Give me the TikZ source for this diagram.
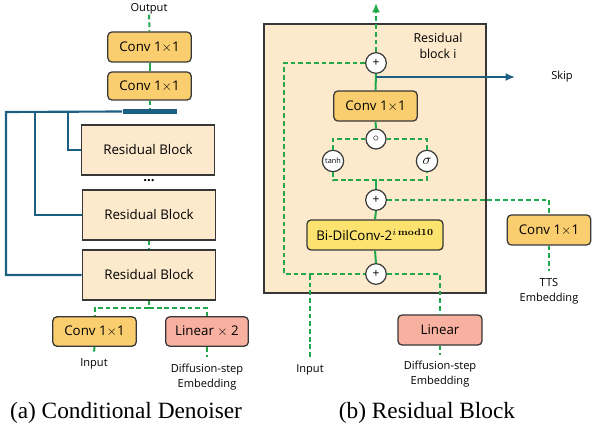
\documentclass[tikz,border=0pt]{standalone}
\usepackage[no-math]{fontspec}
\setmainfont{Open Sans}
\newfontfamily\capfont{Liberation Serif}
\usetikzlibrary{arrows.meta}
\definecolor{gline}{RGB}{34,168,74}
\definecolor{bline}{RGB}{29,95,130}
\definecolor{convfill}{RGB}{250,205,110}
\definecolor{linfill}{RGB}{248,176,160}
\definecolor{dilfill}{RGB}{252,226,110}
\definecolor{cream}{RGB}{253,234,204}
\definecolor{bord}{RGB}{55,55,55}
\tikzset{
  gdash/.style={draw=gline,line width=1.5pt,dash pattern=on 3.6pt off 2.2pt},
  gsolid/.style={draw=gline,line width=1.5pt},
  bl/.style={draw=bline,line width=1.6pt},
  boxbase/.style={draw=bord,line width=0.95pt,inner sep=0pt,align=center,font=\fontsize{10}{12}\selectfont},
  convbox/.style={boxbase,fill=convfill,rounded corners=3pt,minimum width=62.5pt,minimum height=22.5pt},
  linbox/.style={boxbase,fill=linfill,rounded corners=3pt,minimum width=62pt,minimum height=22pt},
  dilbox/.style={boxbase,fill=dilfill,rounded corners=3pt,minimum width=102pt,minimum height=22.5pt},
  resbox/.style={boxbase,fill=cream,minimum width=100pt,minimum height=37.5pt},
  opc/.style={circle,draw=bord,fill=white,line width=0.9pt,inner sep=0pt,minimum size=15.5pt,font=\fontsize{9}{10}\selectfont},
  lbl/.style={align=center,inner sep=0pt,font=\fontsize{8.3}{11.5}\selectfont},
  captxt/.style={inner sep=0pt,font=\capfont\fontsize{17.5}{20}\selectfont}
}
\begin{document}
\begin{tikzpicture}[x=0.75pt,y=-0.75pt]
\useasboundingbox (0,0) rectangle (592,434);
% ---------------- (a) ----------------
\node[lbl] (out) at (149,9) {Output};
\node[convbox] (c1) at (149.5,47) {Conv 1$\times$1};
\node[convbox,minimum height=21pt] (c2) at (149.5,86) {Conv 1$\times$1};
\node[draw=none,fill=bline,minimum width=40.5pt,minimum height=3.8pt,inner sep=0pt] (bar) at (149.5,111.5) {};
\node[resbox] (rb1) at (148,150) {Residual Block};
\node[font=\fontsize{10}{12}\selectfont\bfseries] (dots) at (149,181) {...};
\node[resbox] (rb2) at (149,215) {Residual Block};
\node[resbox] (rb3) at (149,275) {Residual Block};
\node[convbox,minimum height=22pt] (cin) at (94.5,331.5) {Conv 1$\times$1};
\node[linbox] (l2) at (207,331.5) {Linear $\times$ 2};
\node[lbl] (inA) at (94,364) {Input};
\node[lbl] (dA) at (207,377) {Diffusion-step\\Embedding};
\node[captxt] (capA) at (126,413) {(a) Conditional Denoiser};
\coordinate (ka) at (6,112);
\coordinate (kb) at (35,112);
\coordinate (kc) at (68,112);
\coordinate (jA) at (149,308);
\coordinate (eA) at (94,353);
\coordinate (fA) at (207,357);
\draw[gdash] (out.south) -- (c1.north);
\draw[gsolid] (c1.south) -- (c2.north);
\draw[gdash] (c2.south) -- (bar.north);
\draw[bl] (bar.west) -- (ka) |- (rb3.west);
\draw[bl] (kb) |- (rb2.west);
\draw[bl] (kc) |- (rb1.west);
\draw[gdash] (rb2.south) -- (rb3.north);
\draw[gdash] (rb3.south) -- (jA);
\draw[gdash] (jA) -| (cin.north);
\draw[gdash] (jA) -| (l2.north);
\draw[gdash] (cin.south) -- (eA);
\draw[gdash] (l2.south) -- (fA);
% ---------------- (b) ----------------
\node[draw=bord,fill=cream,line width=1.1pt,minimum width=166.5pt,minimum height=201.75pt,inner sep=0pt] (big) at (375,158.5) {};
\node[lbl,font=\fontsize{9.3}{12}\selectfont] (rbi) at (438,46) {Residual\\block i};
\node[opc] (pT) at (376,63) {+};
\node[convbox] (cR) at (375.5,106) {Conv 1$\times$1};
\node[opc,minimum size=15pt] (oc) at (376,139) {$\circ$};
\node[opc,minimum size=16pt,font=\fontsize{5.5}{6}\selectfont] (th) at (333,161) {tanh};
\node[opc,minimum size=16pt,font=\fontsize{11}{12}\selectfont] (sg) at (427,161) {$\sigma$};
\node[opc] (p2) at (376,200) {+};
\node[dilbox] (bd) at (375,235) {Bi-DilConv-2$^{i\,\mathbf{mod10}}$};
\node[opc] (p3) at (376,274) {+};
\node[convbox] (cT) at (549,230) {Conv 1$\times$1};
\node[linbox,minimum width=63pt,minimum height=22.5pt] (lR) at (440,330) {Linear};
\node[lbl] (skip) at (562,77) {Skip};
\node[lbl] (tts) at (549,291) {TTS\\Embedding};
\node[lbl] (inB) at (310,370) {Input};
\node[lbl] (dB) at (440,374) {Diffusion-step\\Embedding};
\node[captxt] (capB) at (427,413) {(b) Residual Block};
\coordinate (top) at (376,3);
\coordinate (sk0) at (376,77);
\coordinate (sk1) at (515,77);
\coordinate (lc) at (284,274);
\coordinate (ib) at (310,274);
\coordinate (ie) at (310,357);
\coordinate (jB) at (376,180);
\coordinate (te) at (549,271);
\coordinate (de) at (440,355);
\draw[gdash,-{Latex[length=7pt,width=6pt]}] (pT.north) -- (top);
\draw[gsolid] (pT.south) -- (cR.north);
\draw[bl,-{Latex[length=7pt,width=6pt]}] (sk0) -- (sk1);
\draw[gsolid] (cR.south) -- (oc.north);
\draw[gdash] (oc.west) -| (th.north);
\draw[gdash] (oc.east) -| (sg.north);
\draw[gdash] (th.south) |- (jB) -| (sg.south);
\draw[gsolid] (jB) -- (p2.north);
\draw[gdash] (p2.east) -| (cT.north);
\draw[gdash] (cT.south) -- (te);
\draw[gsolid] (p2.south) -- (bd.north);
\draw[gsolid] (bd.south) -- (p3.north);
\draw[gdash] (pT.west) -| (lc) -- (p3.west);
\draw[gdash] (ie) -- (ib);
\draw[gdash] (p3.east) -| (lR.north);
\draw[gdash] (lR.south) -- (de);
\end{tikzpicture}
\end{document}
